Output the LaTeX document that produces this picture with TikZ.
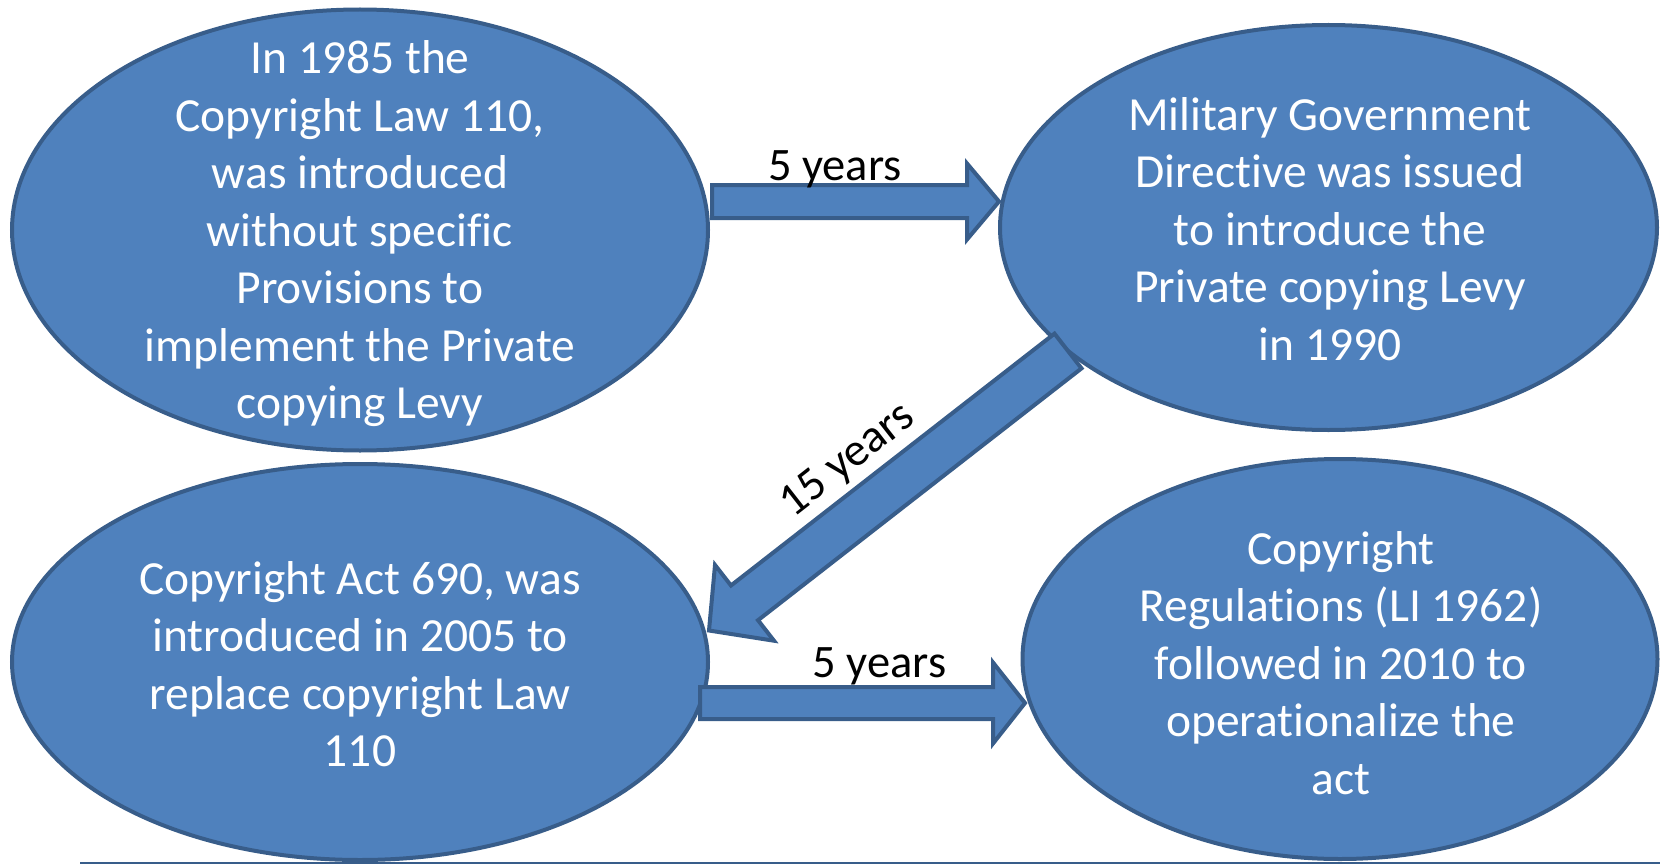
\documentclass[tikz,border=0pt]{standalone}
\usepackage{fontspec}
\setmainfont{Carlito}[Ligatures=NoCommon]
\usetikzlibrary{shapes.geometric,calc}
\definecolor{fillblue}{HTML}{4F81BD}
\definecolor{edgeblue}{HTML}{385D8A}
\tikzset{
  bubble/.style={ellipse, draw=edgeblue, fill=fillblue, line width=4pt, inner sep=0pt},
  bubbletext/.style={text=white, align=center, inner sep=0pt, font=\fontsize{47.5}{57.5}\selectfont},
  gaplabel/.style={text=black, inner sep=0pt, font=\fontsize{46.5}{56}\selectfont},
  barrow/.style={draw=edgeblue, fill=fillblue, line width=4pt, line join=miter},
  baseline rule/.style={draw=edgeblue, line width=1.5pt},
}
% #1 name, #2 tail, #3 tip, #4 shaft half width, #5 head half width, #6 head length
\newcommand\myblockarrow[6]{%
  \coordinate (#1-h) at ($(#3)!#6!(#2)$);
  \draw[barrow] ($(#2)!#4!90:(#3)$) -- ($(#1-h)!#4!90:(#3)$) -- ($(#1-h)!#5!90:(#3)$) -- (#3)
     -- ($(#1-h)!#5!-90:(#3)$) -- ($(#1-h)!#4!-90:(#3)$) -- ($(#2)!#4!-90:(#3)$) -- cycle;
}
\begin{document}
\begin{tikzpicture}[x=1pt, y=-1pt]
\useasboundingbox (0,0) rectangle (1660,864);

\node[bubble, minimum width=696pt, minimum height=441pt] (e1) at (360,230) {};
\node[bubble, minimum width=657pt, minimum height=405pt] (e2) at (1328.5,227.5) {};
\node[bubble, minimum width=696pt, minimum height=396pt] (e3) at (360,662) {};
\node[bubble, minimum width=635pt, minimum height=400pt] (e4) at (1340,659) {};

\node[bubbletext] (t1) at (360,234) {In 1985 the\\Copyright Law 110,\\was introduced\\without specific\\Provisions to\\implement the Private\\copying Levy};
\node[bubbletext] (t2) at (1330,229) {Military Government\\Directive was issued\\to introduce the\\Private copying Levy\\in 1990};
\node[bubbletext] (t3) at (360,664) {Copyright Act 690, was\\introduced in 2005 to\\replace copyright Law\\110};
\node[bubbletext] (t4) at (1341,663) {Copyright\\Regulations (LI 1962)\\followed in 2010 to\\operationalize the\\act};

\coordinate (a1s) at (712,201.5);
\coordinate (a1t) at (999,201.5);
\coordinate (a2s) at (700,703);
\coordinate (a2t) at (1025,703);
\coordinate (a3s) at (1068,351);
\coordinate (a3t) at (709,630.5);

\myblockarrow{a1}{a1s}{a1t}{16.5pt}{38pt}{32pt}
\myblockarrow{a2}{a2s}{a2t}{16pt}{40.5pt}{32pt}
\myblockarrow{a3}{a3s}{a3t}{22pt}{48pt}{45pt}

\node[gaplabel, anchor=base] (l1) at (835,180) {5 years};
\node[gaplabel, anchor=base] (l2) at (879.5,677) {5 years};
\node[gaplabel, rotate=38] (l3) at (848,461) {15 years};

\draw[baseline rule] (80,863) -- (1660,863);
\end{tikzpicture}
\end{document}
